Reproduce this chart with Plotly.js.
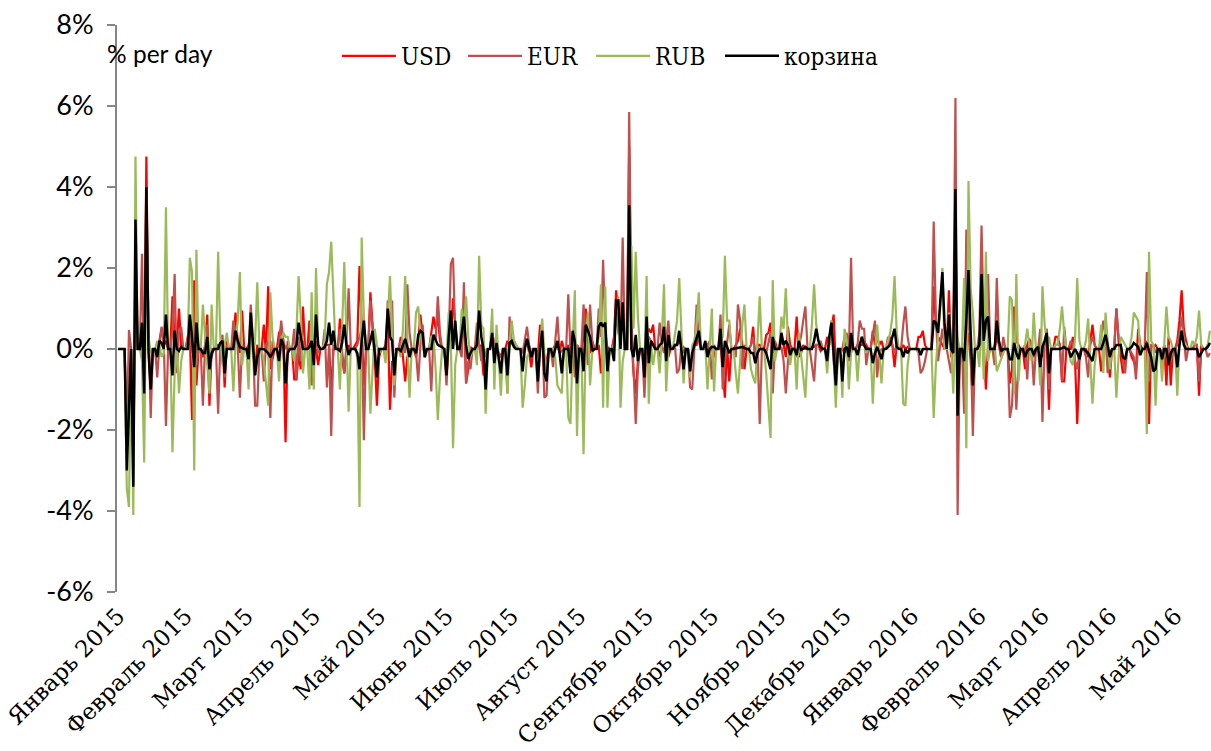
<!DOCTYPE html>
<html><head><meta charset="utf-8">
<script src="https://cdn.plot.ly/plotly-3.0.1.min.js"></script>
<style>html,body{margin:0;padding:0;background:#fff}</style></head>
<body><div id="chart" style="width:1211px;height:751px"></div>
<script>
// Daily change, % per day. First row: Thu 1 Jan - Sun 4 Jan 2015, then one row per Mon..Sun week.
const firstDay = '2015-01-01';
const usd = [0,0,0,0,
-2.4,-.9,0,-2.9,2.4,0,0,
.5,-.7,4.75,.2,-1.1,0,0,
-.1,.2,.5,.1,.2,0,0,
1.3,.2,.1,1,.1,0,0,
.3,.4,-1.75,1.7,-.9,0,0,
-.2,.1,.85,-1.4,0,0,0,
.1,.1,.2,-.95,.2,0,0,
.2,.9,.2,-.1,.95,0,0,
.1,.4,.1,-.5,.1,0,0,
.6,-.1,1.55,-.5,-.2,0,0,
.4,.5,.2,-2.3,.2,0,0,
-.75,-.75,-.1,-.5,1.05,0,0,
.7,-.8,-.1,0,-.4,0,0,
.1,.1,.1,-1.1,0,0,0,
.75,-.2,-.6,-.1,.1,0,0,
.1,.2,2.05,.5,-.9,0,0,
1.4,.6,-.2,-1.4,-.2,0,0,
.1,.8,-1.5,-.3,-.4,0,0,
.3,-.2,-.8,-.2,0,0,0,
-.2,.2,.85,.4,-.2,0,0,
.4,.8,.5,.8,.2,0,0,
-.7,.3,.2,1.25,.6,0,0,
.1,.9,-.85,-.5,.05,0,0,
.1,.05,.1,-.65,-.5,0,0,
.4,.1,.05,-.1,-.2,0,0,
.2,.1,.2,.2,.1,0,0,
-.1,.1,.2,-.1,-.45,0,0,
-.2,.6,.2,-.2,-.3,0,0,
0,.1,.1,-.1,.2,0,0,
.1,-.6,.2,-.2,.1,0,0,
.3,1,.1,-.1,.2,0,0,
.1,-.6,.1,.3,.05,0,0,
.3,1.45,.7,.2,1,0,0,
5,.3,-.6,-1.1,-.3,0,0,
-.2,.4,.5,.4,.6,0,0,
-.2,.1,.4,.1,-.2,0,0,
.1,.1,.2,.1,-.1,0,0,
-.3,-.2,.1,.1,.3,0,0,
.1,-.1,.1,.05,-.2,0,0,
.2,-.6,-1.2,.1,-.8,0,0,
.1,.2,.5,.1,-.5,0,0,
.1,.55,-.3,.1,.1,0,0,
.35,.4,.65,-.1,.2,0,0,
.2,.1,-.2,.55,.1,0,0,
.8,-.2,-.1,.1,0,0,0,
.05,.05,.1,.1,-.05,0,0,
.3,.1,.5,.85,-.5,0,0,
0,-.1,.2,-.3,.1,0,0,
.1,.1,.1,.2,.1,0,0,
.45,.1,.3,.1,.2,0,0,
.1,.3,.1,-.45,.1,0,0,
.1,0,.05,0,0,0,0,
.3,.3,.45,.1,0,0,0,
1.55,.6,.3,.2,.1,0,0,
1.45,-.2,.1,3,-.4,0,0,
-.4,.2,.4,-.3,-1.3,0,0,
.1,.5,.1,-1,.1,0,0,
0,.3,.1,-.2,0,0,0,
-.85,-.5,1.05,.2,.1,0,0,
-.5,.1,.25,.1,-.2,0,0,
.1,-.2,.2,.1,-1.5,0,0,
.3,.3,.1,-.8,-.8,0,0,
0,.3,-.3,-1.85,-.3,0,0,
0,-.2,.2,.6,.1,0,0,
-.55,-.1,.3,0,-.7,0,0,
1,.2,-.2,-.6,-.3,0,0,
-.2,-.3,-.5,.5,.1,0,0,
.2,-1.85,.1,.05,.1,0,0,
-.4,.1,-.9,.3,-.9,0,0,
.2,.7,1.45,.5,.2,0,0,
0,.1,.1,-1.15,.1,0,0,
.1,.1];
const eur = [0,0,0,0,
-2.2,.47,0,-3,2.5,0,0,
2.35,-.8,3.9,.5,-1.7,0,0,
-.7,.1,.55,.2,-1.9,0,0,
.4,1.85,-.6,.4,.55,0,0,
.2,.4,-.1,.3,-.4,0,0,
-1.4,.1,.6,-.4,-.2,0,0,
-1.6,.1,.35,-.7,.1,0,0,
.7,.4,.1,-1.2,.1,0,0,
-.1,1.1,.2,-1.4,-1.4,0,0,
-.8,.1,.2,-1.7,.2,0,0,
.1,.7,.2,0,.1,0,0,
.5,-.75,.3,-.3,.2,0,0,
.1,-.9,.1,.2,-.1,0,0,
.5,-.95,.1,-2.15,.1,0,0,
.5,-.1,-.6,.1,1.5,0,0,
0,.1,.3,.5,-2.25,0,0,
1.2,.5,.1,-.7,-.1,0,0,
0,1.2,.3,1.2,-1.2,0,0,
.2,.1,-.1,1.6,.4,0,0,
-.1,-.8,.1,.6,-.1,0,0,
-1.05,.3,.2,1.3,.4,0,0,
-.9,.2,2.1,2.25,.4,0,0,
-.2,1.65,-.85,-.3,-.5,0,0,
.65,.1,-.3,.1,-.2,0,0,
.4,.1,.1,-.2,-.2,0,0,
-1.1,.8,.1,.2,0,0,0,
-.1,.2,.55,.1,-.1,0,0,
-1.1,.1,.35,-1.2,-1.15,0,0,
-.45,.2,.8,-.1,-.05,0,0,
1.35,-.1,.2,-.7,.1,0,0,
1.1,.3,-.4,1.1,.2,0,0,
1,.3,2.2,.5,-.1,0,0,
.2,.9,.4,.2,2.75,0,0,
5.85,.8,-.5,-1.85,-.5,0,0,
-1.2,.2,.3,.2,.1,0,0,
.65,.1,-.1,.2,.7,0,0,
.1,-.6,-.5,.1,.05,0,0,
-.95,-1,.1,1.1,.2,0,0,
0,.1,.2,-.75,.1,0,0,
.85,-1,-.3,.1,.6,0,0,
-.2,1.1,.7,-.5,.1,0,0,
.1,.3,-.2,.1,-1.85,0,0,
-.1,.2,.4,-1.1,.1,0,0,
.05,-.3,-1.1,-.3,.05,0,0,
-.2,.1,.3,.7,1.05,0,0,
-.4,-.8,.1,.1,.2,0,0,
-.1,.2,.7,-.3,-.9,0,0,
0,.3,.4,-.1,2.25,0,0,
.1,.7,.5,.5,-.4,0,0,
.3,.7,-.7,-.1,0,0,0,
.3,.2,.1,-.1,.1,0,0,
.6,1.05,.3,0,0,0,0,
-.1,-.6,-.5,-.3,0,0,0,
3.15,.8,-.3,.1,.5,0,0,
-.3,-.6,.2,6.2,-4.1,0,0,
-1.6,2.95,.6,.2,-2.15,0,0,
.4,3.05,.5,.5,1.85,0,0,
-.4,1.75,.2,-.2,.3,0,0,
-1.7,-1.4,-.2,-1.5,-.3,0,0,
.1,-.75,.2,.1,-.9,0,0,
.5,-1.8,.1,.5,-1,0,0,
.1,.1,.1,-.8,.55,0,0,
.2,.1,-.3,-.5,-.1,0,0,
-.2,-.7,.1,.3,.1,0,0,
.3,.7,.3,-.6,-.2,0,0,
1,.3,.1,-.3,-.6,0,0,
-.1,-.2,-.75,.1,-.1,0,0,
1.9,-.8,.1,.1,-.1,0,0,
-.1,.1,-.2,.1,-.3,0,0,
.1,.4,.8,.3,-.3,0,0,
0,.1,.1,-.8,-.1,0,0,
-.2,-.1];
const rub = [0,0,0,0,
-3.44,-3.9,0,-4.1,4.75,0,0,
-.3,-2.8,2.5,.3,-.1,0,0,
.2,.1,-.2,-.1,3.5,0,0,
-2.55,-.6,.1,-1.1,-.3,0,0,
.1,2.25,1.9,-3,2.45,0,0,
1.1,.3,-.4,-1.1,1.1,0,0,
2.4,.3,-.4,.1,.4,0,0,
-1.05,.1,.7,1.9,-.4,0,0,
-1,.6,-.2,.2,1.65,0,0,
-.3,-.9,-1.4,1.4,.3,0,0,
-.8,.2,.4,.3,.3,0,0,
-.3,.4,1.8,.8,-.6,0,0,
-1,1.4,-1,2,.1,0,0,
.2,1.6,1.9,2.65,1.5,0,0,
-1,.5,2.15,.3,-1.55,0,0,
0,-.2,-3.9,2.75,.8,0,0,
-1.6,-.5,.5,.1,-.1,0,0,
-.35,.7,1.8,.4,-.9,0,0,
-.2,.5,1.8,.1,-1.2,0,0,
.9,1.05,.4,.1,-.2,0,0,
.3,.35,-.5,-1.75,-.7,0,0,
-.2,.9,.1,-2.45,-.4,0,0,
1,.5,1.3,.3,-.2,0,0,
-.4,2.3,.6,.5,-1.6,0,0,
1,-1,.6,-.4,-1.15,0,0,
-1.1,.1,.7,.2,.1,0,0,
-1.45,-.9,-.2,-.1,0,0,0,
-.7,.1,.75,-.1,-.6,0,0,
0,-.2,-.9,-1,-1.1,0,0,
-1.7,-1.85,.1,1.45,-2.15,0,0,
-2.6,.2,.9,-.9,-.1,0,0,
.3,1.6,-1.45,1.55,-1.45,0,0,
.1,.9,1.3,-1.45,-.3,0,0,
1.5,2.55,.5,2.4,.8,0,0,
-.4,1.8,-1.35,.1,-.4,0,0,
-.6,.3,1.6,-1.05,.1,0,0,
.3,.7,1.75,.4,-.85,0,0,
-.7,.1,.2,.6,1.4,0,0,
.1,-1,.2,1,-1.05,0,0,
.2,.3,2.3,.7,.7,0,0,
-.6,-1.1,-.3,.6,1.1,0,0,
-.5,-.7,-.85,.2,1.3,0,0,
-.6,-1.4,-2.2,1.7,-.3,0,0,
.8,.5,1.5,.2,-.4,0,0,
-1,.4,-.2,-.7,-1.2,0,0,
.6,1.6,.6,.2,.1,0,0,
-.6,.1,.7,-.2,-1.45,0,0,
-1.2,.5,.2,-1,-.1,0,0,
-.8,.1,.3,.1,-.1,0,0,
-1.35,-.1,.6,-.2,-.85,0,0,
.2,.4,.8,1.8,.4,0,0,
-1.35,-1.4,-.4,0,0,0,0,
-.1,0,0,0,0,0,0,
-1.7,-.4,.3,1,2,0,0,
.9,.1,-1.1,.5,.2,0,0,
1.75,-2.45,4.15,1.5,.9,0,0,
-.45,.9,-.75,2.4,-.3,0,0,
.1,-.55,-.4,-.2,-.1,0,0,
1.3,1.2,-1.1,1.85,-.8,0,0,
.1,.5,.1,-.3,.9,0,0,
-.9,1.55,.6,.2,.3,0,0,
.1,.1,.5,1.05,.4,0,0,
-.3,-.4,.3,1.75,.2,0,0,
.2,.75,-.3,-1.35,-.4,0,0,
.6,-.6,.9,.2,-.5,0,0,
-1.2,-.2,.3,.2,.1,0,0,
.3,.9,.8,.7,-.1,0,0,
-2.1,2.4,.2,.1,-1.4,0,0,
-.8,.3,1.05,.3,.2,0,0,
-1.15,.1,.5,.2,.1,0,0,
.2,.1,.3,.95,.1,0,0,
.1,.45];
const basket = [0,0,0,0,
-3,-1.5,0,-3.4,3.2,0,0,
.65,-1.1,4,-.1,-1,0,0,
-.2,.2,.15,0,.85,0,0,
-.65,.45,0,-.05,.05,0,0,
0,.85,.3,-.45,.65,0,0,
-.1,-.1,.3,-.5,-.1,0,0,
0,.15,.2,-.6,0,0,0,
0,.45,.2,.05,.03,0,0,
-.25,.9,.2,-.65,-.2,0,0,
0,-.05,-.1,-.2,-.1,0,0,
-.3,.25,.1,-.85,-.1,0,0,
0,.1,.65,.3,0,0,0,
.05,.2,-.4,.85,.1,0,0,
.05,.2,.65,.1,.45,0,0,
-.05,.15,.6,.1,-.15,0,0,
0,-.1,-.5,.2,.7,0,0,
.2,.45,-.1,-.7,0,0,0,
0,1,.3,.2,-.65,0,0,
-.05,.1,.25,.05,-.2,0,0,
-.1,.35,.45,.4,-.2,0,0,
0,.35,.2,.1,.07,.05,0,
-.65,.3,.95,0,.7,0,0,
.4,.8,.1,-.25,-.1,0,0,
.1,.95,.3,0,-1,0,0,
.4,-.35,.15,-.2,-.6,0,0,
-.65,.15,.2,.05,0,0,0,
-.55,0,.25,0,-.2,0,0,
-.8,0,.45,-.6,-.8,0,0,
-.2,0,.2,-.1,-.6,0,0,
0,-.6,.45,.2,-.85,0,0,
-.55,.6,.45,.3,-.05,0,0,
.55,.65,.55,.65,-.55,0,0,
-.3,1.2,1.2,0,1.15,0,0,
3.55,0,-.2,.35,-.3,0,0,
-.7,.8,-.35,.2,.1,0,0,
.1,.15,.55,-.3,.35,0,0,
.1,.1,.45,0,-.5,0,0,
-.55,-.1,.1,.3,.45,0,0,
.2,-.2,0,.05,.05,0,0,
.5,-.45,.2,.05,-.1,0,0,
.02,.03,.05,.05,.03,0,0,
-.1,-.1,-.35,-.1,0,0,0,
-.1,-.3,-.5,.3,0,0,0,
.4,.1,.2,.1,-.15,0,0,
-.15,.2,-.02,0,.05,0,0,
0,.2,.5,.2,.05,0,0,
-.3,.3,.65,-.2,-.9,0,0,
-.8,0,.05,-.2,.4,0,0,
-.15,.1,.3,.1,0,0,0,
-.35,-.1,.05,-.1,-.25,0,0,
.05,.1,.3,.5,.05,0,0,
-.2,0,-.1,0,0,0,0,
0,-.15,0,0,0,0,0,
.7,.65,.4,1.1,1.9,.6,0,
.85,0,-.1,3.95,-1.65,0,0,
-.3,.7,1.95,.4,-.9,0,0,
.1,1.85,.2,.7,.8,0,0,
0,.7,.2,-.05,0,0,0,
-.25,-.25,.15,-.1,-.25,0,0,
-.2,-.05,0,0,-.15,0,.05,
-.45,.05,.2,.4,-.6,0,0,
0,0,0,.02,.05,0,0,
-.2,-.1,0,-.1,-.25,0,0,
-.05,-.1,-.2,-.3,0,0,0,
0,.15,.35,.1,-.2,0,0,
.1,.1,.1,-.2,-.25,0,0,
.05,.15,.1,.05,-.15,0,0,
.15,-.05,-.2,-.55,-.5,0,0,
-.25,0,0,-.4,-.1,0,0,
-.45,.1,.45,.1,0,0,0,
0,0,0,-.2,-.1,0,0,
.05,.15];
const monthStarts = ['2015-01-01','2015-02-01','2015-03-01','2015-04-01','2015-05-01','2015-06-01','2015-07-01','2015-08-01','2015-09-01','2015-10-01','2015-11-01','2015-12-01','2016-01-01','2016-02-01','2016-03-01','2016-04-01','2016-05-01'];
const monthLabels = ['Январь 2015','Февраль 2015','Март 2015','Апрель 2015','Май 2015','Июнь 2015','Июль 2015','Август 2015','Сентябрь 2015','Октябрь 2015','Ноябрь 2015','Декабрь 2015','Январь 2016','Февраль 2016','Март 2016','Апрель 2016','Май 2016'];
const yTicks = [-6,-4,-2,0,2,4,6,8];
const yLabels = ['-6%','-4%','-2%','0%','2%','4%','6%','8%'];

const dates = usd.map((_, i) => new Date(Date.parse(firstDay + 'T00:00:00Z') + i * 864e5).toISOString().slice(0, 10));
const line = (name, y, color, width, legend) => ({type:'scatter', mode:'lines', name, x:dates, y, legend, line:{color, width}, hoverinfo:'skip'});
const serif = '"DejaVu Serif", "Liberation Serif", serif';
const legendFont = '"DejaVu Serif Condensed", "DejaVu Serif", serif';
const sans = 'Lato, "Open Sans", sans-serif';
const legendAt = x => ({orientation:'h', x, xanchor:'left', y:0.945, yanchor:'middle', font:{family:legendFont, size:24, color:'#000'}, bgcolor:'rgba(0,0,0,0)', itemwidth:54});
Plotly.newPlot('chart', [
  line('USD', usd, '#FF0000', 2.2, 'legend'),
  line('EUR', eur, '#C0504D', 2.2, 'legend2'),
  line('RUB', rub, '#9BBB59', 2.2, 'legend3'),
  line('корзина', basket, '#000000', 2.5, 'legend4')
], {
  width:1211, height:751, paper_bgcolor:'#fff', plot_bgcolor:'#fff', showlegend:true,
  margin:{l:117, r:0, t:25, b:159},
  legend:legendAt(0.201), legend2:legendAt(0.3163), legend3:legendAt(0.4333), legend4:legendAt(0.5512),
  xaxis:{type:'date', range:['2014-12-31 12:00','2016-05-17 12:00'], tickmode:'array', tickvals:monthStarts, ticktext:monthLabels, tickangle:-45, ticks:'', ticklabelstandoff:5, showgrid:false, zeroline:false, showline:false, ticklabeloverflow:'allow', automargin:false, tickfont:{family:serif, size:23, color:'#000'}},
  yaxis:{range:[-6,8], tickmode:'array', tickvals:yTicks, ticktext:yLabels, ticks:'outside', ticklen:8, tickwidth:2, tickcolor:'#868686', ticklabelstandoff:8, showline:true, linewidth:2, linecolor:'#868686', showgrid:false, zeroline:true, zerolinecolor:'#d9d9d9', zerolinewidth:1, tickfont:{family:sans, size:27, color:'#000'}},
  annotations:[{text:'% per day', xref:'paper', yref:'paper', x:-0.011, y:0.95, xanchor:'left', yanchor:'middle', showarrow:false, font:{family:sans, size:24.5, color:'#000'}}]
}, {displayModeBar:false, staticPlot:true});
</script></body></html>
